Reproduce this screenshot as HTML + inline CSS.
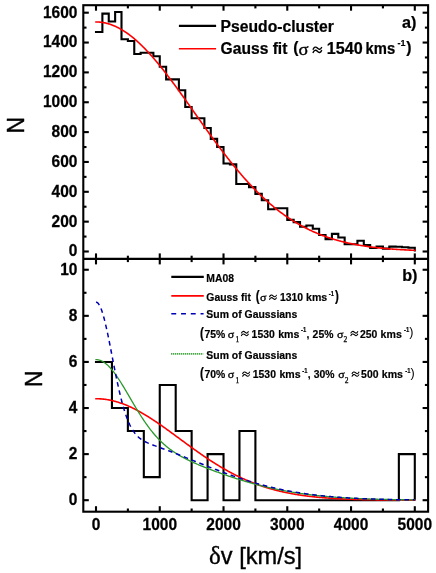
<!DOCTYPE html>
<html><head><meta charset="utf-8"><title>chart</title>
<style>html,body{margin:0;padding:0;background:#fff;overflow:hidden;}svg{display:block;position:absolute;left:0;top:0;will-change:transform;}</style></head>
<body>
<svg width="436" height="573" viewBox="0 0 436 573">
<rect width="436" height="573" fill="#fff"/>
<path d="M96.00,32.00H102.38V13.60H108.75V21.50H115.13V12.00H121.50V39.30H127.88V41.00H134.26V54.00H140.63V52.70H147.01V52.70H153.38V56.20H159.76V66.70H166.14V79.40H172.51V79.40H178.89V90.30H185.26V107.00H191.64V118.20H198.02V118.20H204.39V128.00H210.77V138.90H217.14V147.00H223.52V163.50H229.90V164.40H236.27V184.00H242.65V184.00H249.02V187.10H255.40V193.90H261.78V200.20H268.15V209.20H274.53V208.30H280.90V208.30H287.28V219.90H293.66V222.10H300.03V226.70H306.41V225.50H312.78V228.80H319.16V235.00H325.54V239.10H331.91V233.90H338.29V237.50H344.66V244.30H351.04V244.30H357.42V240.80H363.79V245.00H370.17V248.00H376.54V246.50H382.92V248.60H389.30V246.60H395.67V246.80H402.05V247.20H408.42V247.80H414.80V250.50" fill="none" stroke="#000" stroke-width="2.1" stroke-linejoin="miter" stroke-linecap="square"/>
<polyline points="96.00,21.95 96.64,21.96 97.28,21.97 97.91,22.00 98.55,22.03 99.19,22.07 99.83,22.13 100.46,22.19 101.10,22.26 101.74,22.35 102.38,22.44 103.01,22.54 103.65,22.65 104.29,22.77 104.93,22.90 105.56,23.04 106.20,23.19 106.84,23.35 107.48,23.52 108.11,23.69 108.75,23.88 109.39,24.08 110.03,24.28 110.66,24.50 111.30,24.72 111.94,24.96 112.58,25.20 113.22,25.45 113.85,25.72 114.49,25.99 115.13,26.27 115.77,26.56 116.40,26.86 117.04,27.16 117.68,27.48 118.32,27.81 118.95,28.14 119.59,28.48 120.23,28.84 120.87,29.20 121.50,29.57 122.14,29.95 122.78,30.33 123.42,30.73 124.05,31.13 124.69,31.55 125.33,31.97 125.97,32.40 126.60,32.84 127.24,33.28 127.88,33.74 128.52,34.20 129.16,34.67 129.79,35.15 130.43,35.64 131.07,36.14 131.71,36.64 132.34,37.15 132.98,37.67 133.62,38.20 134.26,38.73 134.89,39.27 135.53,39.82 136.17,40.38 136.81,40.94 137.44,41.52 138.08,42.10 138.72,42.68 139.36,43.28 139.99,43.88 140.63,44.48 141.27,45.10 141.91,45.72 142.54,46.35 143.18,46.98 143.82,47.62 144.46,48.27 145.10,48.93 145.73,49.59 146.37,50.25 147.01,50.93 147.65,51.61 148.28,52.29 148.92,52.98 149.56,53.68 150.20,54.39 150.83,55.10 151.47,55.81 152.11,56.53 152.75,57.26 153.38,57.99 154.02,58.73 154.66,59.47 155.30,60.22 155.93,60.97 156.57,61.73 157.21,62.49 157.85,63.26 158.48,64.03 159.12,64.81 159.76,65.59 160.40,66.37 161.04,67.16 161.67,67.96 162.31,68.76 162.95,69.56 163.59,70.37 164.22,71.18 164.86,72.00 165.50,72.82 166.14,73.64 166.77,74.47 167.41,75.30 168.05,76.13 168.69,76.97 169.32,77.81 169.96,78.65 170.60,79.50 171.24,80.35 171.87,81.20 172.51,82.06 173.15,82.92 173.79,83.78 174.42,84.64 175.06,85.51 175.70,86.38 176.34,87.25 176.98,88.12 177.61,89.00 178.25,89.88 178.89,90.76 179.53,91.64 180.16,92.52 180.80,93.41 181.44,94.30 182.08,95.19 182.71,96.08 183.35,96.97 183.99,97.86 184.63,98.76 185.26,99.65 185.90,100.55 186.54,101.45 187.18,102.35 187.81,103.25 188.45,104.15 189.09,105.05 189.73,105.95 190.36,106.85 191.00,107.75 191.64,108.66 192.28,109.56 192.92,110.46 193.55,111.37 194.19,112.27 194.83,113.18 195.47,114.08 196.10,114.98 196.74,115.89 197.38,116.79 198.02,117.69 198.65,118.60 199.29,119.50 199.93,120.40 200.57,121.30 201.20,122.20 201.84,123.10 202.48,124.00 203.12,124.90 203.75,125.79 204.39,126.69 205.03,127.58 205.67,128.47 206.30,129.37 206.94,130.26 207.58,131.15 208.22,132.03 208.86,132.92 209.49,133.80 210.13,134.69 210.77,135.57 211.41,136.44 212.04,137.32 212.68,138.20 213.32,139.07 213.96,139.94 214.59,140.81 215.23,141.68 215.87,142.54 216.51,143.41 217.14,144.27 217.78,145.12 218.42,145.98 219.06,146.83 219.69,147.68 220.33,148.53 220.97,149.38 221.61,150.22 222.24,151.06 222.88,151.90 223.52,152.73 224.16,153.56 224.80,154.39 225.43,155.22 226.07,156.04 226.71,156.86 227.35,157.67 227.98,158.49 228.62,159.30 229.26,160.11 229.90,160.91 230.53,161.71 231.17,162.51 231.81,163.30 232.45,164.09 233.08,164.88 233.72,165.66 234.36,166.44 235.00,167.22 235.63,167.99 236.27,168.76 236.91,169.53 237.55,170.29 238.18,171.05 238.82,171.80 239.46,172.55 240.10,173.30 240.74,174.04 241.37,174.78 242.01,175.52 242.65,176.25 243.29,176.98 243.92,177.70 244.56,178.42 245.20,179.14 245.84,179.85 246.47,180.56 247.11,181.26 247.75,181.96 248.39,182.66 249.02,183.35 249.66,184.04 250.30,184.72 250.94,185.40 251.57,186.07 252.21,186.75 252.85,187.41 253.49,188.07 254.12,188.73 254.76,189.39 255.40,190.04 256.04,190.68 256.68,191.32 257.31,191.96 257.95,192.59 258.59,193.22 259.23,193.85 259.86,194.47 260.50,195.08 261.14,195.70 261.78,196.30 262.41,196.91 263.05,197.50 263.69,198.10 264.33,198.69 264.96,199.27 265.60,199.86 266.24,200.43 266.88,201.01 267.51,201.57 268.15,202.14 268.79,202.70 269.43,203.25 270.06,203.81 270.70,204.35 271.34,204.89 271.98,205.43 272.62,205.97 273.25,206.50 273.89,207.02 274.53,207.54 275.17,208.06 275.80,208.57 276.44,209.08 277.08,209.58 277.72,210.08 278.35,210.58 278.99,211.07 279.63,211.56 280.27,212.04 280.90,212.52 281.54,212.99 282.18,213.47 282.82,213.93 283.45,214.39 284.09,214.85 284.73,215.31 285.37,215.75 286.00,216.20 286.64,216.64 287.28,217.08 287.92,217.51 288.56,217.94 289.19,218.37 289.83,218.79 290.47,219.21 291.11,219.62 291.74,220.03 292.38,220.43 293.02,220.84 293.66,221.23 294.29,221.63 294.93,222.02 295.57,222.40 296.21,222.78 296.84,223.16 297.48,223.54 298.12,223.91 298.76,224.28 299.39,224.64 300.03,225.00 300.67,225.35 301.31,225.71 301.94,226.05 302.58,226.40 303.22,226.74 303.86,227.08 304.50,227.41 305.13,227.74 305.77,228.07 306.41,228.39 307.05,228.71 307.68,229.03 308.32,229.34 308.96,229.65 309.60,229.96 310.23,230.26 310.87,230.56 311.51,230.85 312.15,231.15 312.78,231.44 313.42,231.72 314.06,232.00 314.70,232.28 315.33,232.56 315.97,232.83 316.61,233.10 317.25,233.37 317.88,233.63 318.52,233.89 319.16,234.15 319.80,234.41 320.44,234.66 321.07,234.91 321.71,235.15 322.35,235.39 322.99,235.63 323.62,235.87 324.26,236.10 324.90,236.34 325.54,236.56 326.17,236.79 326.81,237.01 327.45,237.23 328.09,237.45 328.72,237.66 329.36,237.87 330.00,238.08 330.64,238.29 331.27,238.49 331.91,238.69 332.55,238.89 333.19,239.09 333.82,239.28 334.46,239.47 335.10,239.66 335.74,239.85 336.38,240.03 337.01,240.21 337.65,240.39 338.29,240.57 338.93,240.74 339.56,240.91 340.20,241.08 340.84,241.25 341.48,241.41 342.11,241.58 342.75,241.74 343.39,241.90 344.03,242.05 344.66,242.21 345.30,242.36 345.94,242.51 346.58,242.65 347.21,242.80 347.85,242.94 348.49,243.09 349.13,243.22 349.76,243.36 350.40,243.50 351.04,243.63 351.68,243.76 352.32,243.89 352.95,244.02 353.59,244.15 354.23,244.27 354.87,244.39 355.50,244.52 356.14,244.63 356.78,244.75 357.42,244.87 358.05,244.98 358.69,245.09 359.33,245.20 359.97,245.31 360.60,245.42 361.24,245.52 361.88,245.63 362.52,245.73 363.15,245.83 363.79,245.93 364.43,246.03 365.07,246.13 365.70,246.22 366.34,246.31 366.98,246.41 367.62,246.50 368.26,246.59 368.89,246.67 369.53,246.76 370.17,246.85 370.81,246.93 371.44,247.01 372.08,247.09 372.72,247.17 373.36,247.25 373.99,247.33 374.63,247.40 375.27,247.48 375.91,247.55 376.54,247.63 377.18,247.70 377.82,247.77 378.46,247.84 379.09,247.90 379.73,247.97 380.37,248.04 381.01,248.10 381.64,248.16 382.28,248.23 382.92,248.29 383.56,248.35 384.20,248.41 384.83,248.47 385.47,248.52 386.11,248.58 386.75,248.64 387.38,248.69 388.02,248.74 388.66,248.80 389.30,248.85 389.93,248.90 390.57,248.95 391.21,249.00 391.85,249.05 392.48,249.10 393.12,249.14 393.76,249.19 394.40,249.23 395.03,249.28 395.67,249.32 396.31,249.36 396.95,249.41 397.58,249.45 398.22,249.49 398.86,249.53 399.50,249.57 400.14,249.61 400.77,249.64 401.41,249.68 402.05,249.72 402.69,249.75 403.32,249.79 403.96,249.82 404.60,249.86 405.24,249.89 405.87,249.92 406.51,249.95 407.15,249.99 407.79,250.02 408.42,250.05 409.06,250.08 409.70,250.11 410.34,250.13 410.97,250.16 411.61,250.19 412.25,250.22 412.89,250.24 413.52,250.27 414.16,250.30 414.80,250.32" fill="none" stroke="#ff0000" stroke-width="1.6" stroke-linecap="square"/>
<path d="M96.00,361.93H111.94V408.02H127.88V431.06H143.82V477.15H159.76V384.97H175.70V431.06H191.64V500.20H207.58V454.11H223.52V500.20H239.46V431.06H255.40V500.20H271.34V500.20H287.28V500.20H303.22V500.20H319.16V500.20H335.10V500.20H351.04V500.20H366.98V500.20H382.92V500.20H398.86V454.11H414.80V499.20" fill="none" stroke="#000" stroke-width="2.1" stroke-linejoin="miter" stroke-linecap="square"/>
<polyline points="96.00,398.73 96.64,398.73 97.28,398.74 97.91,398.76 98.55,398.78 99.19,398.81 99.83,398.84 100.46,398.88 101.10,398.92 101.74,398.97 102.38,399.03 103.01,399.09 103.65,399.16 104.29,399.23 104.93,399.31 105.56,399.39 106.20,399.49 106.84,399.58 107.48,399.68 108.11,399.79 108.75,399.91 109.39,400.03 110.03,400.15 110.66,400.28 111.30,400.42 111.94,400.56 112.58,400.71 113.22,400.86 113.85,401.02 114.49,401.19 115.13,401.36 115.77,401.53 116.40,401.71 117.04,401.90 117.68,402.09 118.32,402.29 118.95,402.49 119.59,402.70 120.23,402.91 120.87,403.13 121.50,403.35 122.14,403.58 122.78,403.81 123.42,404.05 124.05,404.30 124.69,404.55 125.33,404.80 125.97,405.06 126.60,405.32 127.24,405.59 127.88,405.86 128.52,406.14 129.16,406.42 129.79,406.71 130.43,407.00 131.07,407.29 131.71,407.59 132.34,407.90 132.98,408.21 133.62,408.52 134.26,408.84 134.89,409.16 135.53,409.48 136.17,409.81 136.81,410.15 137.44,410.48 138.08,410.83 138.72,411.17 139.36,411.52 139.99,411.87 140.63,412.23 141.27,412.59 141.91,412.96 142.54,413.32 143.18,413.70 143.82,414.07 144.46,414.45 145.10,414.83 145.73,415.21 146.37,415.60 147.01,415.99 147.65,416.39 148.28,416.78 148.92,417.18 149.56,417.59 150.20,417.99 150.83,418.40 151.47,418.81 152.11,419.23 152.75,419.64 153.38,420.06 154.02,420.48 154.66,420.91 155.30,421.33 155.93,421.76 156.57,422.19 157.21,422.63 157.85,423.06 158.48,423.50 159.12,423.94 159.76,424.38 160.40,424.82 161.04,425.27 161.67,425.71 162.31,426.16 162.95,426.61 163.59,427.06 164.22,427.51 164.86,427.97 165.50,428.42 166.14,428.88 166.77,429.34 167.41,429.79 168.05,430.25 168.69,430.72 169.32,431.18 169.96,431.64 170.60,432.10 171.24,432.57 171.87,433.03 172.51,433.50 173.15,433.97 173.79,434.43 174.42,434.90 175.06,435.37 175.70,435.84 176.34,436.31 176.98,436.78 177.61,437.25 178.25,437.72 178.89,438.19 179.53,438.66 180.16,439.13 180.80,439.60 181.44,440.07 182.08,440.53 182.71,441.00 183.35,441.47 183.99,441.94 184.63,442.41 185.26,442.88 185.90,443.35 186.54,443.81 187.18,444.28 187.81,444.74 188.45,445.21 189.09,445.67 189.73,446.14 190.36,446.60 191.00,447.06 191.64,447.52 192.28,447.98 192.92,448.44 193.55,448.90 194.19,449.36 194.83,449.81 195.47,450.27 196.10,450.72 196.74,451.17 197.38,451.62 198.02,452.07 198.65,452.52 199.29,452.97 199.93,453.41 200.57,453.86 201.20,454.30 201.84,454.74 202.48,455.18 203.12,455.61 203.75,456.05 204.39,456.48 205.03,456.92 205.67,457.35 206.30,457.77 206.94,458.20 207.58,458.63 208.22,459.05 208.86,459.47 209.49,459.89 210.13,460.31 210.77,460.72 211.41,461.13 212.04,461.55 212.68,461.95 213.32,462.36 213.96,462.77 214.59,463.17 215.23,463.57 215.87,463.97 216.51,464.36 217.14,464.76 217.78,465.15 218.42,465.54 219.06,465.92 219.69,466.31 220.33,466.69 220.97,467.07 221.61,467.45 222.24,467.82 222.88,468.19 223.52,468.56 224.16,468.93 224.80,469.30 225.43,469.66 226.07,470.02 226.71,470.38 227.35,470.73 227.98,471.08 228.62,471.43 229.26,471.78 229.90,472.13 230.53,472.47 231.17,472.81 231.81,473.14 232.45,473.48 233.08,473.81 233.72,474.14 234.36,474.47 235.00,474.79 235.63,475.11 236.27,475.43 236.91,475.75 237.55,476.06 238.18,476.37 238.82,476.68 239.46,476.99 240.10,477.29 240.74,477.59 241.37,477.89 242.01,478.18 242.65,478.48 243.29,478.76 243.92,479.05 244.56,479.34 245.20,479.62 245.84,479.90 246.47,480.17 247.11,480.45 247.75,480.72 248.39,480.99 249.02,481.26 249.66,481.52 250.30,481.78 250.94,482.04 251.57,482.29 252.21,482.55 252.85,482.80 253.49,483.05 254.12,483.29 254.76,483.54 255.40,483.78 256.04,484.01 256.68,484.25 257.31,484.48 257.95,484.71 258.59,484.94 259.23,485.17 259.86,485.39 260.50,485.61 261.14,485.83 261.78,486.04 262.41,486.26 263.05,486.47 263.69,486.68 264.33,486.88 264.96,487.09 265.60,487.29 266.24,487.49 266.88,487.68 267.51,487.88 268.15,488.07 268.79,488.26 269.43,488.45 270.06,488.63 270.70,488.81 271.34,489.00 271.98,489.17 272.62,489.35 273.25,489.52 273.89,489.70 274.53,489.87 275.17,490.03 275.80,490.20 276.44,490.36 277.08,490.52 277.72,490.68 278.35,490.84 278.99,490.99 279.63,491.15 280.27,491.30 280.90,491.45 281.54,491.59 282.18,491.74 282.82,491.88 283.45,492.02 284.09,492.16 284.73,492.30 285.37,492.43 286.00,492.57 286.64,492.70 287.28,492.83 287.92,492.96 288.56,493.08 289.19,493.21 289.83,493.33 290.47,493.45 291.11,493.57 291.74,493.69 292.38,493.80 293.02,493.92 293.66,494.03 294.29,494.14 294.93,494.25 295.57,494.36 296.21,494.46 296.84,494.57 297.48,494.67 298.12,494.77 298.76,494.87 299.39,494.97 300.03,495.06 300.67,495.16 301.31,495.25 301.94,495.34 302.58,495.44 303.22,495.52 303.86,495.61 304.50,495.70 305.13,495.78 305.77,495.87 306.41,495.95 307.05,496.03 307.68,496.11 308.32,496.19 308.96,496.27 309.60,496.34 310.23,496.42 310.87,496.49 311.51,496.56 312.15,496.63 312.78,496.70 313.42,496.77 314.06,496.84 314.70,496.91 315.33,496.97 315.97,497.04 316.61,497.10 317.25,497.16 317.88,497.22 318.52,497.28 319.16,497.34 319.80,497.40 320.44,497.46 321.07,497.51 321.71,497.57 322.35,497.62 322.99,497.67 323.62,497.72 324.26,497.78 324.90,497.83 325.54,497.87 326.17,497.92 326.81,497.97 327.45,498.02 328.09,498.06 328.72,498.11 329.36,498.15 330.00,498.20 330.64,498.24 331.27,498.28 331.91,498.32 332.55,498.36 333.19,498.40 333.82,498.44 334.46,498.48 335.10,498.51 335.74,498.55 336.38,498.59 337.01,498.62 337.65,498.66 338.29,498.69 338.93,498.72 339.56,498.75 340.20,498.79 340.84,498.82 341.48,498.85 342.11,498.88 342.75,498.91 343.39,498.94 344.03,498.97 344.66,498.99 345.30,499.02 345.94,499.05 346.58,499.07 347.21,499.10 347.85,499.12 348.49,499.15 349.13,499.17 349.76,499.20 350.40,499.22 351.04,499.24 351.68,499.26 352.32,499.28 352.95,499.31 353.59,499.33 354.23,499.35 354.87,499.37 355.50,499.39 356.14,499.41 356.78,499.42 357.42,499.44 358.05,499.46 358.69,499.48 359.33,499.50 359.97,499.51 360.60,499.53 361.24,499.54 361.88,499.56 362.52,499.58 363.15,499.59 363.79,499.61 364.43,499.62 365.07,499.63 365.70,499.65 366.34,499.66 366.98,499.67 367.62,499.69 368.26,499.70 368.89,499.71 369.53,499.72 370.17,499.74 370.81,499.75 371.44,499.76 372.08,499.77 372.72,499.78 373.36,499.79 373.99,499.80 374.63,499.81 375.27,499.82 375.91,499.83 376.54,499.84 377.18,499.85 377.82,499.86 378.46,499.87 379.09,499.88 379.73,499.88 380.37,499.89 381.01,499.90 381.64,499.91 382.28,499.91 382.92,499.92 383.56,499.93 384.20,499.94 384.83,499.94 385.47,499.95 386.11,499.96 386.75,499.96 387.38,499.97 388.02,499.98 388.66,499.98 389.30,499.99 389.93,499.99 390.57,500.00 391.21,500.00 391.85,500.01 392.48,500.01 393.12,500.02 393.76,500.02 394.40,500.03 395.03,500.03 395.67,500.04 396.31,500.04 396.95,500.05 397.58,500.05 398.22,500.05 398.86,500.06 399.50,500.06 400.14,500.07 400.77,500.07 401.41,500.07 402.05,500.08 402.69,500.08 403.32,500.08 403.96,500.09 404.60,500.09 405.24,500.09 405.87,500.10 406.51,500.10 407.15,500.10 407.79,500.10 408.42,500.11 409.06,500.11 409.70,500.11 410.34,500.11 410.97,500.12 411.61,500.12 412.25,500.12 412.89,500.12 413.52,500.13 414.16,500.13 414.80,500.13" fill="none" stroke="#ff0000" stroke-width="1.6" stroke-linecap="square"/>
<polyline points="96.00,359.63 96.64,359.65 97.28,359.70 97.91,359.79 98.55,359.91 99.19,360.06 99.83,360.25 100.46,360.47 101.10,360.73 101.74,361.02 102.38,361.34 103.01,361.70 103.65,362.08 104.29,362.50 104.93,362.95 105.56,363.43 106.20,363.94 106.84,364.48 107.48,365.05 108.11,365.65 108.75,366.28 109.39,366.93 110.03,367.61 110.66,368.32 111.30,369.05 111.94,369.81 112.58,370.59 113.22,371.39 113.85,372.22 114.49,373.06 115.13,373.93 115.77,374.81 116.40,375.72 117.04,376.64 117.68,377.58 118.32,378.53 118.95,379.50 119.59,380.49 120.23,381.48 120.87,382.49 121.50,383.52 122.14,384.55 122.78,385.59 123.42,386.64 124.05,387.70 124.69,388.77 125.33,389.84 125.97,390.92 126.60,392.00 127.24,393.08 127.88,394.17 128.52,395.27 129.16,396.36 129.79,397.45 130.43,398.55 131.07,399.64 131.71,400.73 132.34,401.82 132.98,402.90 133.62,403.99 134.26,405.07 134.89,406.14 135.53,407.21 136.17,408.27 136.81,409.33 137.44,410.37 138.08,411.42 138.72,412.45 139.36,413.47 139.99,414.49 140.63,415.50 141.27,416.49 141.91,417.48 142.54,418.46 143.18,419.42 143.82,420.38 144.46,421.32 145.10,422.25 145.73,423.17 146.37,424.08 147.01,424.98 147.65,425.87 148.28,426.74 148.92,427.60 149.56,428.45 150.20,429.28 150.83,430.10 151.47,430.91 152.11,431.71 152.75,432.49 153.38,433.26 154.02,434.02 154.66,434.77 155.30,435.50 155.93,436.22 156.57,436.93 157.21,437.63 157.85,438.31 158.48,438.98 159.12,439.64 159.76,440.29 160.40,440.92 161.04,441.55 161.67,442.16 162.31,442.76 162.95,443.35 163.59,443.93 164.22,444.50 164.86,445.06 165.50,445.61 166.14,446.14 166.77,446.67 167.41,447.19 168.05,447.70 168.69,448.20 169.32,448.69 169.96,449.17 170.60,449.64 171.24,450.11 171.87,450.56 172.51,451.01 173.15,451.45 173.79,451.88 174.42,452.31 175.06,452.73 175.70,453.14 176.34,453.54 176.98,453.94 177.61,454.33 178.25,454.72 178.89,455.10 179.53,455.47 180.16,455.84 180.80,456.20 181.44,456.56 182.08,456.91 182.71,457.26 183.35,457.60 183.99,457.94 184.63,458.28 185.26,458.61 185.90,458.93 186.54,459.25 187.18,459.57 187.81,459.89 188.45,460.20 189.09,460.50 189.73,460.81 190.36,461.11 191.00,461.41 191.64,461.70 192.28,462.00 192.92,462.29 193.55,462.58 194.19,462.86 194.83,463.14 195.47,463.42 196.10,463.70 196.74,463.98 197.38,464.25 198.02,464.52 198.65,464.79 199.29,465.06 199.93,465.33 200.57,465.59 201.20,465.86 201.84,466.12 202.48,466.38 203.12,466.64 203.75,466.89 204.39,467.15 205.03,467.40 205.67,467.66 206.30,467.91 206.94,468.16 207.58,468.41 208.22,468.66 208.86,468.90 209.49,469.15 210.13,469.39 210.77,469.64 211.41,469.88 212.04,470.12 212.68,470.36 213.32,470.60 213.96,470.84 214.59,471.08 215.23,471.31 215.87,471.55 216.51,471.78 217.14,472.01 217.78,472.25 218.42,472.48 219.06,472.71 219.69,472.94 220.33,473.17 220.97,473.39 221.61,473.62 222.24,473.85 222.88,474.07 223.52,474.29 224.16,474.52 224.80,474.74 225.43,474.96 226.07,475.18 226.71,475.40 227.35,475.62 227.98,475.83 228.62,476.05 229.26,476.26 229.90,476.48 230.53,476.69 231.17,476.90 231.81,477.12 232.45,477.33 233.08,477.53 233.72,477.74 234.36,477.95 235.00,478.16 235.63,478.36 236.27,478.57 236.91,478.77 237.55,478.97 238.18,479.17 238.82,479.37 239.46,479.57 240.10,479.77 240.74,479.97 241.37,480.16 242.01,480.36 242.65,480.55 243.29,480.74 243.92,480.94 244.56,481.13 245.20,481.32 245.84,481.50 246.47,481.69 247.11,481.88 247.75,482.06 248.39,482.25 249.02,482.43 249.66,482.61 250.30,482.79 250.94,482.97 251.57,483.15 252.21,483.33 252.85,483.50 253.49,483.68 254.12,483.85 254.76,484.02 255.40,484.20 256.04,484.37 256.68,484.53 257.31,484.70 257.95,484.87 258.59,485.04 259.23,485.20 259.86,485.36 260.50,485.53 261.14,485.69 261.78,485.85 262.41,486.01 263.05,486.16 263.69,486.32 264.33,486.48 264.96,486.63 265.60,486.78 266.24,486.93 266.88,487.09 267.51,487.23 268.15,487.38 268.79,487.53 269.43,487.68 270.06,487.82 270.70,487.97 271.34,488.11 271.98,488.25 272.62,488.39 273.25,488.53 273.89,488.67 274.53,488.80 275.17,488.94 275.80,489.07 276.44,489.21 277.08,489.34 277.72,489.47 278.35,489.60 278.99,489.73 279.63,489.86 280.27,489.98 280.90,490.11 281.54,490.23 282.18,490.36 282.82,490.48 283.45,490.60 284.09,490.72 284.73,490.84 285.37,490.96 286.00,491.07 286.64,491.19 287.28,491.30 287.92,491.42 288.56,491.53 289.19,491.64 289.83,491.75 290.47,491.86 291.11,491.97 291.74,492.08 292.38,492.18 293.02,492.29 293.66,492.39 294.29,492.49 294.93,492.60 295.57,492.70 296.21,492.80 296.84,492.90 297.48,492.99 298.12,493.09 298.76,493.19 299.39,493.28 300.03,493.37 300.67,493.47 301.31,493.56 301.94,493.65 302.58,493.74 303.22,493.83 303.86,493.92 304.50,494.00 305.13,494.09 305.77,494.18 306.41,494.26 307.05,494.34 307.68,494.43 308.32,494.51 308.96,494.59 309.60,494.67 310.23,494.75 310.87,494.82 311.51,494.90 312.15,494.98 312.78,495.05 313.42,495.13 314.06,495.20 314.70,495.27 315.33,495.34 315.97,495.41 316.61,495.48 317.25,495.55 317.88,495.62 318.52,495.69 319.16,495.76 319.80,495.82 320.44,495.89 321.07,495.95 321.71,496.02 322.35,496.08 322.99,496.14 323.62,496.20 324.26,496.26 324.90,496.32 325.54,496.38 326.17,496.44 326.81,496.50 327.45,496.56 328.09,496.61 328.72,496.67 329.36,496.72 330.00,496.78 330.64,496.83 331.27,496.88 331.91,496.93 332.55,496.98 333.19,497.04 333.82,497.09 334.46,497.13 335.10,497.18 335.74,497.23 336.38,497.28 337.01,497.33 337.65,497.37 338.29,497.42 338.93,497.46 339.56,497.51 340.20,497.55 340.84,497.59 341.48,497.64 342.11,497.68 342.75,497.72 343.39,497.76 344.03,497.80 344.66,497.84 345.30,497.88 345.94,497.92 346.58,497.95 347.21,497.99 347.85,498.03 348.49,498.07 349.13,498.10 349.76,498.14 350.40,498.17 351.04,498.21 351.68,498.24 352.32,498.27 352.95,498.31 353.59,498.34 354.23,498.37 354.87,498.40 355.50,498.43 356.14,498.46 356.78,498.49 357.42,498.52 358.05,498.55 358.69,498.58 359.33,498.61 359.97,498.64 360.60,498.66 361.24,498.69 361.88,498.72 362.52,498.74 363.15,498.77 363.79,498.79 364.43,498.82 365.07,498.84 365.70,498.87 366.34,498.89 366.98,498.92 367.62,498.94 368.26,498.96 368.89,498.98 369.53,499.01 370.17,499.03 370.81,499.05 371.44,499.07 372.08,499.09 372.72,499.11 373.36,499.13 373.99,499.15 374.63,499.17 375.27,499.19 375.91,499.21 376.54,499.23 377.18,499.25 377.82,499.26 378.46,499.28 379.09,499.30 379.73,499.31 380.37,499.33 381.01,499.35 381.64,499.36 382.28,499.38 382.92,499.40 383.56,499.41 384.20,499.43 384.83,499.44 385.47,499.46 386.11,499.47 386.75,499.48 387.38,499.50 388.02,499.51 388.66,499.52 389.30,499.54 389.93,499.55 390.57,499.56 391.21,499.58 391.85,499.59 392.48,499.60 393.12,499.61 393.76,499.62 394.40,499.63 395.03,499.65 395.67,499.66 396.31,499.67 396.95,499.68 397.58,499.69 398.22,499.70 398.86,499.71 399.50,499.72 400.14,499.73 400.77,499.74 401.41,499.75 402.05,499.76 402.69,499.77 403.32,499.77 403.96,499.78 404.60,499.79 405.24,499.80 405.87,499.81 406.51,499.82 407.15,499.82 407.79,499.83 408.42,499.84 409.06,499.85 409.70,499.85 410.34,499.86 410.97,499.87 411.61,499.88 412.25,499.88 412.89,499.89 413.52,499.90 414.16,499.90 414.80,499.91" stroke="#2a982a" stroke-width="1.3" fill="none" stroke-linecap="square"/>
<polyline points="96.00,302.12 96.64,302.23 97.28,302.55 97.91,303.08 98.55,303.83 99.19,304.78 99.83,305.94 100.46,307.30 101.10,308.84 101.74,310.57 102.38,312.48 103.01,314.55 103.65,316.78 104.29,319.16 104.93,321.68 105.56,324.33 106.20,327.09 106.84,329.96 107.48,332.92 108.11,335.96 108.75,339.07 109.39,342.24 110.03,345.46 110.66,348.72 111.30,351.99 111.94,355.28 112.58,358.58 113.22,361.86 113.85,365.13 114.49,368.37 115.13,371.58 115.77,374.75 116.40,377.86 117.04,380.92 117.68,383.91 118.32,386.84 118.95,389.69 119.59,392.46 120.23,395.15 120.87,397.76 121.50,400.27 122.14,402.70 122.78,405.04 123.42,407.28 124.05,409.43 124.69,411.49 125.33,413.46 125.97,415.34 126.60,417.13 127.24,418.83 127.88,420.44 128.52,421.97 129.16,423.42 129.79,424.79 130.43,426.08 131.07,427.30 131.71,428.45 132.34,429.53 132.98,430.55 133.62,431.50 134.26,432.40 134.89,433.25 135.53,434.04 136.17,434.78 136.81,435.48 137.44,436.14 138.08,436.75 138.72,437.33 139.36,437.88 139.99,438.39 140.63,438.88 141.27,439.34 141.91,439.77 142.54,440.18 143.18,440.57 143.82,440.94 144.46,441.30 145.10,441.63 145.73,441.96 146.37,442.27 147.01,442.57 147.65,442.86 148.28,443.15 148.92,443.42 149.56,443.69 150.20,443.95 150.83,444.20 151.47,444.46 152.11,444.70 152.75,444.95 153.38,445.19 154.02,445.43 154.66,445.67 155.30,445.90 155.93,446.13 156.57,446.37 157.21,446.60 157.85,446.83 158.48,447.06 159.12,447.30 159.76,447.53 160.40,447.76 161.04,447.99 161.67,448.23 162.31,448.46 162.95,448.69 163.59,448.93 164.22,449.16 164.86,449.40 165.50,449.64 166.14,449.87 166.77,450.11 167.41,450.35 168.05,450.59 168.69,450.83 169.32,451.07 169.96,451.31 170.60,451.56 171.24,451.80 171.87,452.05 172.51,452.29 173.15,452.54 173.79,452.79 174.42,453.03 175.06,453.28 175.70,453.53 176.34,453.78 176.98,454.03 177.61,454.28 178.25,454.53 178.89,454.78 179.53,455.04 180.16,455.29 180.80,455.54 181.44,455.80 182.08,456.05 182.71,456.31 183.35,456.56 183.99,456.82 184.63,457.07 185.26,457.33 185.90,457.59 186.54,457.84 187.18,458.10 187.81,458.36 188.45,458.61 189.09,458.87 189.73,459.13 190.36,459.39 191.00,459.65 191.64,459.90 192.28,460.16 192.92,460.42 193.55,460.68 194.19,460.94 194.83,461.20 195.47,461.45 196.10,461.71 196.74,461.97 197.38,462.23 198.02,462.49 198.65,462.74 199.29,463.00 199.93,463.26 200.57,463.52 201.20,463.77 201.84,464.03 202.48,464.29 203.12,464.54 203.75,464.80 204.39,465.05 205.03,465.31 205.67,465.56 206.30,465.82 206.94,466.07 207.58,466.32 208.22,466.58 208.86,466.83 209.49,467.08 210.13,467.33 210.77,467.58 211.41,467.84 212.04,468.09 212.68,468.33 213.32,468.58 213.96,468.83 214.59,469.08 215.23,469.33 215.87,469.57 216.51,469.82 217.14,470.06 217.78,470.31 218.42,470.55 219.06,470.79 219.69,471.04 220.33,471.28 220.97,471.52 221.61,471.76 222.24,472.00 222.88,472.23 223.52,472.47 224.16,472.71 224.80,472.94 225.43,473.18 226.07,473.41 226.71,473.65 227.35,473.88 227.98,474.11 228.62,474.34 229.26,474.57 229.90,474.80 230.53,475.02 231.17,475.25 231.81,475.48 232.45,475.70 233.08,475.92 233.72,476.15 234.36,476.37 235.00,476.59 235.63,476.81 236.27,477.03 236.91,477.24 237.55,477.46 238.18,477.67 238.82,477.89 239.46,478.10 240.10,478.31 240.74,478.52 241.37,478.73 242.01,478.94 242.65,479.15 243.29,479.36 243.92,479.56 244.56,479.77 245.20,479.97 245.84,480.17 246.47,480.37 247.11,480.57 247.75,480.77 248.39,480.96 249.02,481.16 249.66,481.35 250.30,481.55 250.94,481.74 251.57,481.93 252.21,482.12 252.85,482.31 253.49,482.50 254.12,482.68 254.76,482.87 255.40,483.05 256.04,483.23 256.68,483.42 257.31,483.60 257.95,483.77 258.59,483.95 259.23,484.13 259.86,484.30 260.50,484.48 261.14,484.65 261.78,484.82 262.41,484.99 263.05,485.16 263.69,485.33 264.33,485.50 264.96,485.66 265.60,485.82 266.24,485.99 266.88,486.15 267.51,486.31 268.15,486.47 268.79,486.63 269.43,486.78 270.06,486.94 270.70,487.09 271.34,487.24 271.98,487.40 272.62,487.55 273.25,487.70 273.89,487.84 274.53,487.99 275.17,488.14 275.80,488.28 276.44,488.42 277.08,488.56 277.72,488.70 278.35,488.84 278.99,488.98 279.63,489.12 280.27,489.26 280.90,489.39 281.54,489.52 282.18,489.66 282.82,489.79 283.45,489.92 284.09,490.04 284.73,490.17 285.37,490.30 286.00,490.42 286.64,490.55 287.28,490.67 287.92,490.79 288.56,490.91 289.19,491.03 289.83,491.15 290.47,491.27 291.11,491.38 291.74,491.50 292.38,491.61 293.02,491.72 293.66,491.83 294.29,491.94 294.93,492.05 295.57,492.16 296.21,492.27 296.84,492.37 297.48,492.48 298.12,492.58 298.76,492.69 299.39,492.79 300.03,492.89 300.67,492.99 301.31,493.08 301.94,493.18 302.58,493.28 303.22,493.37 303.86,493.47 304.50,493.56 305.13,493.65 305.77,493.74 306.41,493.84 307.05,493.92 307.68,494.01 308.32,494.10 308.96,494.19 309.60,494.27 310.23,494.36 310.87,494.44 311.51,494.52 312.15,494.60 312.78,494.68 313.42,494.76 314.06,494.84 314.70,494.92 315.33,495.00 315.97,495.07 316.61,495.15 317.25,495.22 317.88,495.30 318.52,495.37 319.16,495.44 319.80,495.51 320.44,495.58 321.07,495.65 321.71,495.72 322.35,495.78 322.99,495.85 323.62,495.92 324.26,495.98 324.90,496.05 325.54,496.11 326.17,496.17 326.81,496.23 327.45,496.29 328.09,496.35 328.72,496.41 329.36,496.47 330.00,496.53 330.64,496.59 331.27,496.64 331.91,496.70 332.55,496.76 333.19,496.81 333.82,496.86 334.46,496.92 335.10,496.97 335.74,497.02 336.38,497.07 337.01,497.12 337.65,497.17 338.29,497.22 338.93,497.27 339.56,497.31 340.20,497.36 340.84,497.41 341.48,497.45 342.11,497.50 342.75,497.54 343.39,497.58 344.03,497.63 344.66,497.67 345.30,497.71 345.94,497.75 346.58,497.79 347.21,497.83 347.85,497.87 348.49,497.91 349.13,497.95 349.76,497.99 350.40,498.03 351.04,498.06 351.68,498.10 352.32,498.14 352.95,498.17 353.59,498.21 354.23,498.24 354.87,498.27 355.50,498.31 356.14,498.34 356.78,498.37 357.42,498.40 358.05,498.43 358.69,498.46 359.33,498.49 359.97,498.52 360.60,498.55 361.24,498.58 361.88,498.61 362.52,498.64 363.15,498.67 363.79,498.69 364.43,498.72 365.07,498.75 365.70,498.77 366.34,498.80 366.98,498.82 367.62,498.85 368.26,498.87 368.89,498.90 369.53,498.92 370.17,498.94 370.81,498.97 371.44,498.99 372.08,499.01 372.72,499.03 373.36,499.06 373.99,499.08 374.63,499.10 375.27,499.12 375.91,499.14 376.54,499.16 377.18,499.18 377.82,499.20 378.46,499.21 379.09,499.23 379.73,499.25 380.37,499.27 381.01,499.29 381.64,499.30 382.28,499.32 382.92,499.34 383.56,499.35 384.20,499.37 384.83,499.39 385.47,499.40 386.11,499.42 386.75,499.43 387.38,499.45 388.02,499.46 388.66,499.48 389.30,499.49 389.93,499.50 390.57,499.52 391.21,499.53 391.85,499.54 392.48,499.56 393.12,499.57 393.76,499.58 394.40,499.59 395.03,499.61 395.67,499.62 396.31,499.63 396.95,499.64 397.58,499.65 398.22,499.66 398.86,499.67 399.50,499.68 400.14,499.69 400.77,499.71 401.41,499.72 402.05,499.72 402.69,499.73 403.32,499.74 403.96,499.75 404.60,499.76 405.24,499.77 405.87,499.78 406.51,499.79 407.15,499.80 407.79,499.81 408.42,499.81 409.06,499.82 409.70,499.83 410.34,499.84 410.97,499.84 411.61,499.85 412.25,499.86 412.89,499.87 413.52,499.87 414.16,499.88 414.80,499.89" stroke="#0000b4" stroke-width="1.5" stroke-dasharray="4.6 3.8" fill="none"/>
<g stroke="#000" stroke-width="2.1" fill="none" stroke-linecap="butt">
<rect x="83.3" y="5.2" width="344.8" height="506.5"/>
<line x1="83.3" y1="258.9" x2="428.1" y2="258.9"/>
<line x1="96.00" y1="5.2" x2="96.00" y2="10.7"/>
<line x1="96.00" y1="253.39999999999998" x2="96.00" y2="264.4"/>
<line x1="96.00" y1="511.7" x2="96.00" y2="506.2"/>
<line x1="127.88" y1="5.2" x2="127.88" y2="8.4"/>
<line x1="127.88" y1="255.7" x2="127.88" y2="262.09999999999997"/>
<line x1="127.88" y1="511.7" x2="127.88" y2="508.5"/>
<line x1="159.76" y1="5.2" x2="159.76" y2="10.7"/>
<line x1="159.76" y1="253.39999999999998" x2="159.76" y2="264.4"/>
<line x1="159.76" y1="511.7" x2="159.76" y2="506.2"/>
<line x1="191.64" y1="5.2" x2="191.64" y2="8.4"/>
<line x1="191.64" y1="255.7" x2="191.64" y2="262.09999999999997"/>
<line x1="191.64" y1="511.7" x2="191.64" y2="508.5"/>
<line x1="223.52" y1="5.2" x2="223.52" y2="10.7"/>
<line x1="223.52" y1="253.39999999999998" x2="223.52" y2="264.4"/>
<line x1="223.52" y1="511.7" x2="223.52" y2="506.2"/>
<line x1="255.40" y1="5.2" x2="255.40" y2="8.4"/>
<line x1="255.40" y1="255.7" x2="255.40" y2="262.09999999999997"/>
<line x1="255.40" y1="511.7" x2="255.40" y2="508.5"/>
<line x1="287.28" y1="5.2" x2="287.28" y2="10.7"/>
<line x1="287.28" y1="253.39999999999998" x2="287.28" y2="264.4"/>
<line x1="287.28" y1="511.7" x2="287.28" y2="506.2"/>
<line x1="319.16" y1="5.2" x2="319.16" y2="8.4"/>
<line x1="319.16" y1="255.7" x2="319.16" y2="262.09999999999997"/>
<line x1="319.16" y1="511.7" x2="319.16" y2="508.5"/>
<line x1="351.04" y1="5.2" x2="351.04" y2="10.7"/>
<line x1="351.04" y1="253.39999999999998" x2="351.04" y2="264.4"/>
<line x1="351.04" y1="511.7" x2="351.04" y2="506.2"/>
<line x1="382.92" y1="5.2" x2="382.92" y2="8.4"/>
<line x1="382.92" y1="255.7" x2="382.92" y2="262.09999999999997"/>
<line x1="382.92" y1="511.7" x2="382.92" y2="508.5"/>
<line x1="414.80" y1="5.2" x2="414.80" y2="10.7"/>
<line x1="414.80" y1="253.39999999999998" x2="414.80" y2="264.4"/>
<line x1="414.80" y1="511.7" x2="414.80" y2="506.2"/>
<line x1="83.3" y1="251.50" x2="88.8" y2="251.50"/>
<line x1="428.1" y1="251.50" x2="422.6" y2="251.50"/>
<line x1="83.3" y1="236.57" x2="86.5" y2="236.57"/>
<line x1="428.1" y1="236.57" x2="424.90000000000003" y2="236.57"/>
<line x1="83.3" y1="221.65" x2="88.8" y2="221.65"/>
<line x1="428.1" y1="221.65" x2="422.6" y2="221.65"/>
<line x1="83.3" y1="206.72" x2="86.5" y2="206.72"/>
<line x1="428.1" y1="206.72" x2="424.90000000000003" y2="206.72"/>
<line x1="83.3" y1="191.80" x2="88.8" y2="191.80"/>
<line x1="428.1" y1="191.80" x2="422.6" y2="191.80"/>
<line x1="83.3" y1="176.88" x2="86.5" y2="176.88"/>
<line x1="428.1" y1="176.88" x2="424.90000000000003" y2="176.88"/>
<line x1="83.3" y1="161.95" x2="88.8" y2="161.95"/>
<line x1="428.1" y1="161.95" x2="422.6" y2="161.95"/>
<line x1="83.3" y1="147.03" x2="86.5" y2="147.03"/>
<line x1="428.1" y1="147.03" x2="424.90000000000003" y2="147.03"/>
<line x1="83.3" y1="132.10" x2="88.8" y2="132.10"/>
<line x1="428.1" y1="132.10" x2="422.6" y2="132.10"/>
<line x1="83.3" y1="117.18" x2="86.5" y2="117.18"/>
<line x1="428.1" y1="117.18" x2="424.90000000000003" y2="117.18"/>
<line x1="83.3" y1="102.25" x2="88.8" y2="102.25"/>
<line x1="428.1" y1="102.25" x2="422.6" y2="102.25"/>
<line x1="83.3" y1="87.33" x2="86.5" y2="87.33"/>
<line x1="428.1" y1="87.33" x2="424.90000000000003" y2="87.33"/>
<line x1="83.3" y1="72.40" x2="88.8" y2="72.40"/>
<line x1="428.1" y1="72.40" x2="422.6" y2="72.40"/>
<line x1="83.3" y1="57.47" x2="86.5" y2="57.47"/>
<line x1="428.1" y1="57.47" x2="424.90000000000003" y2="57.47"/>
<line x1="83.3" y1="42.55" x2="88.8" y2="42.55"/>
<line x1="428.1" y1="42.55" x2="422.6" y2="42.55"/>
<line x1="83.3" y1="27.62" x2="86.5" y2="27.62"/>
<line x1="428.1" y1="27.62" x2="424.90000000000003" y2="27.62"/>
<line x1="83.3" y1="12.70" x2="88.8" y2="12.70"/>
<line x1="428.1" y1="12.70" x2="422.6" y2="12.70"/>
<line x1="83.3" y1="500.20" x2="88.8" y2="500.20"/>
<line x1="428.1" y1="500.20" x2="422.6" y2="500.20"/>
<line x1="83.3" y1="477.15" x2="86.5" y2="477.15"/>
<line x1="428.1" y1="477.15" x2="424.90000000000003" y2="477.15"/>
<line x1="83.3" y1="454.11" x2="88.8" y2="454.11"/>
<line x1="428.1" y1="454.11" x2="422.6" y2="454.11"/>
<line x1="83.3" y1="431.06" x2="86.5" y2="431.06"/>
<line x1="428.1" y1="431.06" x2="424.90000000000003" y2="431.06"/>
<line x1="83.3" y1="408.02" x2="88.8" y2="408.02"/>
<line x1="428.1" y1="408.02" x2="422.6" y2="408.02"/>
<line x1="83.3" y1="384.97" x2="86.5" y2="384.97"/>
<line x1="428.1" y1="384.97" x2="424.90000000000003" y2="384.97"/>
<line x1="83.3" y1="361.93" x2="88.8" y2="361.93"/>
<line x1="428.1" y1="361.93" x2="422.6" y2="361.93"/>
<line x1="83.3" y1="338.88" x2="86.5" y2="338.88"/>
<line x1="428.1" y1="338.88" x2="424.90000000000003" y2="338.88"/>
<line x1="83.3" y1="315.84" x2="88.8" y2="315.84"/>
<line x1="428.1" y1="315.84" x2="422.6" y2="315.84"/>
<line x1="83.3" y1="292.79" x2="86.5" y2="292.79"/>
<line x1="428.1" y1="292.79" x2="424.90000000000003" y2="292.79"/>
<line x1="83.3" y1="269.75" x2="88.8" y2="269.75"/>
<line x1="428.1" y1="269.75" x2="422.6" y2="269.75"/>
</g>
<g font-family="Liberation Sans, sans-serif" font-weight="bold" font-size="15.5" fill="#000" stroke="#000" stroke-width="0.25">
<text transform="translate(77.4,256.35) scale(1,1.08)" text-anchor="end">0</text>
<text transform="translate(77.4,226.50) scale(1,1.08)" text-anchor="end">200</text>
<text transform="translate(77.4,196.65) scale(1,1.08)" text-anchor="end">400</text>
<text transform="translate(77.4,166.80) scale(1,1.08)" text-anchor="end">600</text>
<text transform="translate(77.4,136.95) scale(1,1.08)" text-anchor="end">800</text>
<text transform="translate(77.4,107.10) scale(1,1.08)" text-anchor="end">1000</text>
<text transform="translate(77.4,77.25) scale(1,1.08)" text-anchor="end">1200</text>
<text transform="translate(77.4,47.40) scale(1,1.08)" text-anchor="end">1400</text>
<text transform="translate(77.4,17.55) scale(1,1.08)" text-anchor="end">1600</text>
<text transform="translate(77.4,505.05) scale(1,1.08)" text-anchor="end">0</text>
<text transform="translate(77.4,458.96) scale(1,1.08)" text-anchor="end">2</text>
<text transform="translate(77.4,412.87) scale(1,1.08)" text-anchor="end">4</text>
<text transform="translate(77.4,366.78) scale(1,1.08)" text-anchor="end">6</text>
<text transform="translate(77.4,320.69) scale(1,1.08)" text-anchor="end">8</text>
<text transform="translate(77.4,274.60) scale(1,1.08)" text-anchor="end">10</text>
<text transform="translate(96.00,529.9) scale(1,1.08)" text-anchor="middle">0</text>
<text transform="translate(159.76,529.9) scale(1,1.08)" text-anchor="middle">1000</text>
<text transform="translate(223.52,529.9) scale(1,1.08)" text-anchor="middle">2000</text>
<text transform="translate(287.28,529.9) scale(1,1.08)" text-anchor="middle">3000</text>
<text transform="translate(351.04,529.9) scale(1,1.08)" text-anchor="middle">4000</text>
<text transform="translate(414.80,529.9) scale(1,1.08)" text-anchor="middle">5000</text>
</g>
<g font-family="Liberation Sans, sans-serif" font-size="24.2" fill="#000" stroke="#000" stroke-width="0.45">
<text transform="translate(24.2,125.3) rotate(-90)" text-anchor="middle" textLength="16.5" lengthAdjust="spacingAndGlyphs">N</text>
<text transform="translate(42.1,378.8) rotate(-90)" text-anchor="middle" textLength="16.5" lengthAdjust="spacingAndGlyphs">N</text>
</g>
<text x="209.0" y="564" font-family="Liberation Sans, sans-serif" font-size="23.6" fill="#000" stroke="#000" stroke-width="0.35"><tspan font-family="Liberation Serif, serif" font-size="25">δ</tspan>v [km/s]</text>
<line x1="178.9" y1="25.9" x2="216.1" y2="25.9" stroke="#000" stroke-width="2.1"/>
<line x1="178.9" y1="48.7" x2="216.1" y2="48.7" stroke="#ff0000" stroke-width="1.6"/>
<text transform="translate(220.6,31.8) scale(1,1.08)" font-family="Liberation Sans, sans-serif" font-size="15.0" font-weight="bold" fill="#000" stroke="#000" stroke-width="0.22" textLength="113.3" lengthAdjust="spacingAndGlyphs">Pseudo-cluster</text>
<text transform="translate(220.6,54.3) scale(1,1.08)" font-family="Liberation Sans, sans-serif" font-size="15.0" font-weight="bold" fill="#000" stroke="#000" stroke-width="0.22" textLength="66.8" lengthAdjust="spacingAndGlyphs">Gauss fit</text>
<text transform="translate(293.3,52.9) scale(1,1.08)" font-family="Liberation Sans, sans-serif" font-size="15.7" font-weight="bold" fill="#000" stroke="#000" stroke-width="0.22">(</text>
<text x="298.4" y="54.599999999999994" font-family="Liberation Serif, serif" font-size="15.8" font-weight="normal" fill="#000" stroke="#000" stroke-width="0.35" textLength="10.0" lengthAdjust="spacingAndGlyphs">σ</text>
<path d="M312.90,49.68 C313.97,46.92 315.84,46.38 317.35,48.08 S320.46,49.94 321.80,46.92 M312.90,52.88 C313.97,50.12 315.84,49.59 317.35,51.28 S320.46,53.15 321.80,50.12" fill="none" stroke="#000" stroke-width="1.4" stroke-linecap="butt"/>
<text transform="translate(326.7,54.3) scale(1,1.08)" font-family="Liberation Sans, sans-serif" font-size="15.0" font-weight="bold" fill="#000" stroke="#000" stroke-width="0.22" textLength="36.0" lengthAdjust="spacingAndGlyphs">1540</text>
<text transform="translate(365.6,54.3) scale(1,1.08)" font-family="Liberation Sans, sans-serif" font-size="15.0" font-weight="bold" fill="#000" stroke="#000" stroke-width="0.22" textLength="29.6" lengthAdjust="spacingAndGlyphs">kms</text>
<text transform="translate(397.6,45.9) scale(1,1.08)" font-family="Liberation Sans, sans-serif" font-size="9.0" font-weight="bold" fill="#000" stroke="#000" stroke-width="0.18">-1</text>
<text transform="translate(406.2,52.9) scale(1,1.08)" font-family="Liberation Sans, sans-serif" font-size="15.7" font-weight="bold" fill="#000" stroke="#000" stroke-width="0.22">)</text>
<text transform="translate(402.0,27.9) scale(1,1.08)" font-family="Liberation Sans, sans-serif" font-size="15.0" font-weight="bold" fill="#000" stroke="#000" stroke-width="0.22" textLength="14.4" lengthAdjust="spacingAndGlyphs">a)</text>
<text transform="translate(402.2,281.0) scale(1,1.08)" font-family="Liberation Sans, sans-serif" font-size="15.0" font-weight="bold" fill="#000" stroke="#000" stroke-width="0.22" textLength="15.3" lengthAdjust="spacingAndGlyphs">b)</text>
<line x1="171.3" y1="276.9" x2="203.8" y2="276.9" stroke="#000" stroke-width="2.1"/>
<line x1="171.3" y1="295.8" x2="203.8" y2="295.8" stroke="#ff0000" stroke-width="1.7"/>
<line x1="171.3" y1="313.7" x2="203.6" y2="313.7" stroke="#0000b4" stroke-width="1.5" stroke-dasharray="4.9 4.85" fill="none"/>
<line x1="171.2" y1="353.9" x2="203.4" y2="353.9" stroke="#1c921c" stroke-width="1.8" stroke-dasharray="1.1 0.9" fill="none"/>
<text transform="translate(206.3,282.2) scale(1,1.08)" font-family="Liberation Sans, sans-serif" font-size="10.4" font-weight="bold" fill="#000" stroke="#000" stroke-width="0.18">MA08</text>
<text transform="translate(206.3,301.1) scale(1,1.08)" font-family="Liberation Sans, sans-serif" font-size="10.4" font-weight="bold" fill="#000" stroke="#000" stroke-width="0.18" textLength="44.6" lengthAdjust="spacingAndGlyphs">Gauss fit</text>
<text transform="translate(255.7,301.40000000000003) scale(1,1.3)" font-family="Liberation Sans, sans-serif" font-size="11.6" font-weight="bold" fill="#000" stroke="#000" stroke-width="0.18">(</text>
<text x="260.1" y="301.1" font-family="Liberation Serif, serif" font-size="10.8" font-weight="normal" fill="#000" stroke="#000" stroke-width="0.3" textLength="6.5" lengthAdjust="spacingAndGlyphs">σ</text>
<path d="M269.40,297.12 C270.26,294.89 271.78,294.46 273.00,295.82 S275.52,297.34 276.60,294.89 M269.40,299.71 C270.26,297.48 271.78,297.05 273.00,298.42 S275.52,299.93 276.60,297.48" fill="none" stroke="#000" stroke-width="1.1" stroke-linecap="butt"/>
<text transform="translate(279.9,301.1) scale(1,1.08)" font-family="Liberation Sans, sans-serif" font-size="10.4" font-weight="bold" fill="#000" stroke="#000" stroke-width="0.18">1310</text>
<text transform="translate(306.0,301.1) scale(1,1.08)" font-family="Liberation Sans, sans-serif" font-size="10.4" font-weight="bold" fill="#000" stroke="#000" stroke-width="0.18" textLength="21.2" lengthAdjust="spacingAndGlyphs">kms</text>
<text transform="translate(328.7,295.5) scale(1,1.08)" font-family="Liberation Sans, sans-serif" font-size="6.8" font-weight="bold" fill="#000" stroke="#000" stroke-width="0.18" textLength="5.2" lengthAdjust="spacingAndGlyphs">-1</text>
<text transform="translate(335.0,301.40000000000003) scale(1,1.3)" font-family="Liberation Sans, sans-serif" font-size="11.6" font-weight="bold" fill="#000" stroke="#000" stroke-width="0.18">)</text>
<text transform="translate(206.3,318.4) scale(1,1.08)" font-family="Liberation Sans, sans-serif" font-size="10.4" font-weight="bold" fill="#000" stroke="#000" stroke-width="0.18" textLength="91.0" lengthAdjust="spacingAndGlyphs">Sum of Gaussians</text>
<text transform="translate(206.3,358.6) scale(1,1.08)" font-family="Liberation Sans, sans-serif" font-size="10.4" font-weight="bold" fill="#000" stroke="#000" stroke-width="0.18" textLength="91.0" lengthAdjust="spacingAndGlyphs">Sum of Gaussians</text>
<text transform="translate(200.0,337.8) scale(1,1.3)" font-family="Liberation Sans, sans-serif" font-size="11.6" font-weight="bold" fill="#000" stroke="#000" stroke-width="0.18">(</text>
<text transform="translate(204.4,337.5) scale(1,1.08)" font-family="Liberation Sans, sans-serif" font-size="10.4" font-weight="bold" fill="#000" stroke="#000" stroke-width="0.18">75%</text>
<text x="227.7" y="337.5" font-family="Liberation Serif, serif" font-size="10.8" font-weight="normal" fill="#000" stroke="#000" stroke-width="0.3" textLength="6.5" lengthAdjust="spacingAndGlyphs">σ</text>
<text x="235.4" y="342.1" font-family="Liberation Serif, serif" font-size="7.5" font-weight="normal" fill="#000" stroke="#000" stroke-width="0.25">1</text>
<path d="M241.30,333.42 C242.16,331.19 243.68,330.76 244.90,332.12 S247.42,333.64 248.50,331.19 M241.30,336.01 C242.16,333.78 243.68,333.35 244.90,334.72 S247.42,336.23 248.50,333.78" fill="none" stroke="#000" stroke-width="1.1" stroke-linecap="butt"/>
<text transform="translate(251.6,337.5) scale(1,1.08)" font-family="Liberation Sans, sans-serif" font-size="10.4" font-weight="bold" fill="#000" stroke="#000" stroke-width="0.18">1530</text>
<text transform="translate(278.2,337.5) scale(1,1.08)" font-family="Liberation Sans, sans-serif" font-size="10.4" font-weight="bold" fill="#000" stroke="#000" stroke-width="0.18" textLength="21.2" lengthAdjust="spacingAndGlyphs">kms</text>
<text transform="translate(301.1,332.1) scale(1,1.08)" font-family="Liberation Sans, sans-serif" font-size="6.8" font-weight="bold" fill="#000" stroke="#000" stroke-width="0.18" textLength="5.2" lengthAdjust="spacingAndGlyphs">-1</text>
<text transform="translate(306.6,337.5) scale(1,1.08)" font-family="Liberation Sans, sans-serif" font-size="10.4" font-weight="bold" fill="#000" stroke="#000" stroke-width="0.18">,</text>
<text transform="translate(312.6,337.5) scale(1,1.08)" font-family="Liberation Sans, sans-serif" font-size="10.4" font-weight="bold" fill="#000" stroke="#000" stroke-width="0.18">25%</text>
<text x="337.0" y="337.5" font-family="Liberation Serif, serif" font-size="10.8" font-weight="normal" fill="#000" stroke="#000" stroke-width="0.3" textLength="6.5" lengthAdjust="spacingAndGlyphs">σ</text>
<text x="343.6" y="342.1" font-family="Liberation Serif, serif" font-size="7.5" font-weight="normal" fill="#000" stroke="#000" stroke-width="0.25">2</text>
<path d="M350.70,333.42 C351.56,331.19 353.08,330.76 354.30,332.12 S356.82,333.64 357.90,331.19 M350.70,336.01 C351.56,333.78 353.08,333.35 354.30,334.72 S356.82,336.23 357.90,333.78" fill="none" stroke="#000" stroke-width="1.1" stroke-linecap="butt"/>
<text transform="translate(359.9,337.5) scale(1,1.08)" font-family="Liberation Sans, sans-serif" font-size="10.4" font-weight="bold" fill="#000" stroke="#000" stroke-width="0.18">250</text>
<text transform="translate(380.6,337.5) scale(1,1.08)" font-family="Liberation Sans, sans-serif" font-size="10.4" font-weight="bold" fill="#000" stroke="#000" stroke-width="0.18" textLength="21.2" lengthAdjust="spacingAndGlyphs">kms</text>
<text transform="translate(404.1,332.1) scale(1,1.08)" font-family="Liberation Sans, sans-serif" font-size="6.8" font-weight="bold" fill="#000" stroke="#000" stroke-width="0.18" textLength="5.2" lengthAdjust="spacingAndGlyphs">-1</text>
<text x="409.2" y="336.4" font-family="Liberation Sans, sans-serif" font-size="12.5" font-weight="normal" fill="#000">)</text>
<text transform="translate(200.0,378.40000000000003) scale(1,1.3)" font-family="Liberation Sans, sans-serif" font-size="11.6" font-weight="bold" fill="#000" stroke="#000" stroke-width="0.18">(</text>
<text transform="translate(204.4,378.1) scale(1,1.08)" font-family="Liberation Sans, sans-serif" font-size="10.4" font-weight="bold" fill="#000" stroke="#000" stroke-width="0.18">70%</text>
<text x="227.7" y="378.1" font-family="Liberation Serif, serif" font-size="10.8" font-weight="normal" fill="#000" stroke="#000" stroke-width="0.3" textLength="6.5" lengthAdjust="spacingAndGlyphs">σ</text>
<text x="235.4" y="382.70000000000005" font-family="Liberation Serif, serif" font-size="7.5" font-weight="normal" fill="#000" stroke="#000" stroke-width="0.25">1</text>
<path d="M242.50,374.02 C243.36,371.79 244.88,371.36 246.10,372.72 S248.62,374.24 249.70,371.79 M242.50,376.61 C243.36,374.38 244.88,373.95 246.10,375.32 S248.62,376.83 249.70,374.38" fill="none" stroke="#000" stroke-width="1.1" stroke-linecap="butt"/>
<text transform="translate(252.79999999999998,378.1) scale(1,1.08)" font-family="Liberation Sans, sans-serif" font-size="10.4" font-weight="bold" fill="#000" stroke="#000" stroke-width="0.18">1530</text>
<text transform="translate(279.4,378.1) scale(1,1.08)" font-family="Liberation Sans, sans-serif" font-size="10.4" font-weight="bold" fill="#000" stroke="#000" stroke-width="0.18" textLength="21.2" lengthAdjust="spacingAndGlyphs">kms</text>
<text transform="translate(302.3,372.70000000000005) scale(1,1.08)" font-family="Liberation Sans, sans-serif" font-size="6.8" font-weight="bold" fill="#000" stroke="#000" stroke-width="0.18" textLength="5.2" lengthAdjust="spacingAndGlyphs">-1</text>
<text transform="translate(307.8,378.1) scale(1,1.08)" font-family="Liberation Sans, sans-serif" font-size="10.4" font-weight="bold" fill="#000" stroke="#000" stroke-width="0.18">,</text>
<text transform="translate(313.8,378.1) scale(1,1.08)" font-family="Liberation Sans, sans-serif" font-size="10.4" font-weight="bold" fill="#000" stroke="#000" stroke-width="0.18">30%</text>
<text x="338.2" y="378.1" font-family="Liberation Serif, serif" font-size="10.8" font-weight="normal" fill="#000" stroke="#000" stroke-width="0.3" textLength="6.5" lengthAdjust="spacingAndGlyphs">σ</text>
<text x="344.8" y="382.70000000000005" font-family="Liberation Serif, serif" font-size="7.5" font-weight="normal" fill="#000" stroke="#000" stroke-width="0.25">2</text>
<path d="M351.90,374.02 C352.76,371.79 354.28,371.36 355.50,372.72 S358.02,374.24 359.10,371.79 M351.90,376.61 C352.76,374.38 354.28,373.95 355.50,375.32 S358.02,376.83 359.10,374.38" fill="none" stroke="#000" stroke-width="1.1" stroke-linecap="butt"/>
<text transform="translate(361.09999999999997,378.1) scale(1,1.08)" font-family="Liberation Sans, sans-serif" font-size="10.4" font-weight="bold" fill="#000" stroke="#000" stroke-width="0.18">500</text>
<text transform="translate(381.8,378.1) scale(1,1.08)" font-family="Liberation Sans, sans-serif" font-size="10.4" font-weight="bold" fill="#000" stroke="#000" stroke-width="0.18" textLength="21.2" lengthAdjust="spacingAndGlyphs">kms</text>
<text transform="translate(405.3,372.70000000000005) scale(1,1.08)" font-family="Liberation Sans, sans-serif" font-size="6.8" font-weight="bold" fill="#000" stroke="#000" stroke-width="0.18" textLength="5.2" lengthAdjust="spacingAndGlyphs">-1</text>
<text x="410.4" y="377.0" font-family="Liberation Sans, sans-serif" font-size="12.5" font-weight="normal" fill="#000">)</text>
</svg>
</body></html>
